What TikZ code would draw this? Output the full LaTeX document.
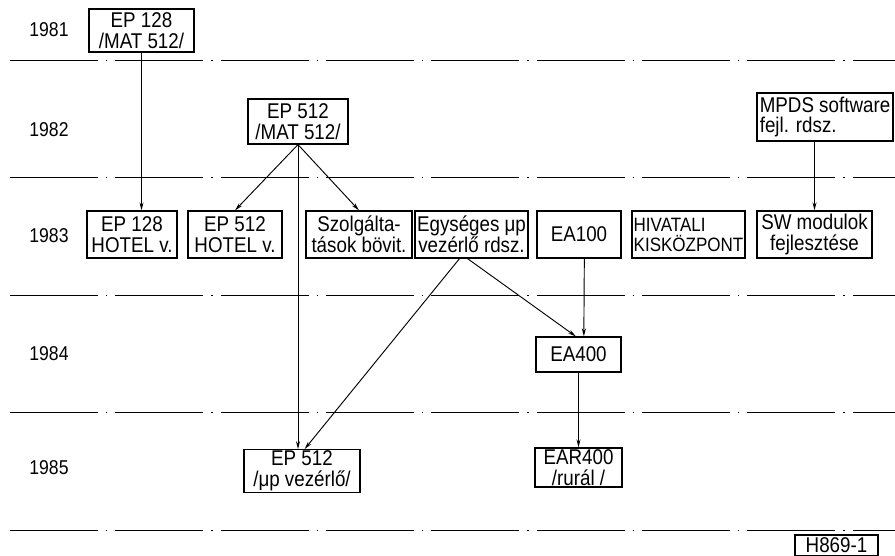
\documentclass[tikz,border=0pt]{standalone}
\usepackage{fontspec}
\setmainfont{Liberation Sans}[FakeStretch=0.88]
\usetikzlibrary{arrows.meta,positioning}

\begin{document}
\begin{tikzpicture}[x=0.75pt,y=-0.75pt,
  box/.style={draw,line width=.9pt,inner sep=1pt,align=center,font=\fontsize{16}{15.5}\selectfont},
  yr/.style={font=\fontsize{15}{15}\selectfont},
  arr/.style={line width=.7pt,-{Stealth[length=6pt,width=3pt]}},
  sepline/.style={line width=.6pt,dash pattern=on 66pt off 6pt on 1pt off 6pt}]
\useasboundingbox (0,0) rectangle (895,556);
% time axis
\foreach \y in {60,177,295,412,530} \draw[sepline] (10,\y) -- (895,\y);
\node[yr] (y81) at (49,30) {1981};
\node[yr] (y82) at (49,130) {1982};
\node[yr] (y83) at (49,236) {1983};
\node[yr] (y84) at (49,354) {1984};
\node[yr] (y85) at (49,468) {1985};
% boxes
\node[box,minimum width=105*0.75pt,minimum height=43*0.75pt] (ep128a) at (141.5,30.5) {EP 128\\/MAT 512/};
\node[box,minimum width=100*0.75pt,minimum height=45*0.75pt] (ep512a) at (298,121.5) {EP 512\\/MAT 512/};
\node[box,align=left,minimum width=136*0.75pt,minimum height=48*0.75pt] (mpds) at (825,117) {MPDS software\\fejl. rdsz.};
\node[box,minimum width=90*0.75pt,minimum height=47*0.75pt] (hotel128) at (132,234.5) {EP 128\\HOTEL v.};
\node[box,minimum width=94*0.75pt,minimum height=47*0.75pt] (hotel512) at (235,234.5) {EP 512\\HOTEL v.};
\node[box,minimum width=106*0.75pt,minimum height=47*0.75pt] (szolg) at (359,234.5) {Szolgálta-\\tások bövit.};
\node[box,minimum width=113*0.75pt,minimum height=47*0.75pt] (egys) at (471.5,234.5) {Egységes μp\\vezérlő rdsz.};
\node[box,minimum width=84*0.75pt,minimum height=47*0.75pt] (ea100) at (579,234.5) {EA100};
\node[box,align=left,font=\fontsize{14.5}{15}\selectfont,minimum width=113*0.75pt,minimum height=47*0.75pt] (hiv) at (688.5,234.5) {HIVATALI\\KISKÖZPONT};
\node[box,minimum width=115*0.75pt,minimum height=47*0.75pt] (sw) at (814.5,234.5) {SW modulok\\fejlesztése};
\node[box,minimum width=85*0.75pt,minimum height=35*0.75pt] (ea400) at (578.5,354.5) {EA400};
\node[box,minimum width=116*0.75pt,minimum height=42*0.75pt] (ep512up) at (302,471) {EP 512\\/μp vezérlő/};
\node[box,minimum width=87*0.75pt,minimum height=39*0.75pt] (ear400) at (578.5,467.5) {EAR400\\/rurál /};
\node[box,font=\fontsize{16}{16}\selectfont,minimum width=83*0.75pt,minimum height=21*0.75pt] (h869) at (836.5,545.5) {H869-1};
% arrows
\draw[arr] (ep128a.south) -- (ep128a.south |- hotel128.north);
\draw[arr] (ep512a.south) -- (hotel512.north);
\draw[arr] (ep512a.south) -- (szolg.north);
\draw[arr] (ep512a.south) -- (ep512a.south |- ep512up.north);
\draw[arr] ([xshift=-9pt]egys.south) -- ([xshift=2pt]ep512up.north);
\draw[arr] ([xshift=-3pt]egys.south) -- ([xshift=-2pt]ea400.north);
\draw[arr] ([xshift=4pt]ea100.south) -- ([xshift=4pt]ea400.north);
\draw[arr] (ea400.south) -- (ear400.north);
\draw[arr] (sw.north |- mpds.south) -- (sw.north);
\end{tikzpicture}
\end{document}
